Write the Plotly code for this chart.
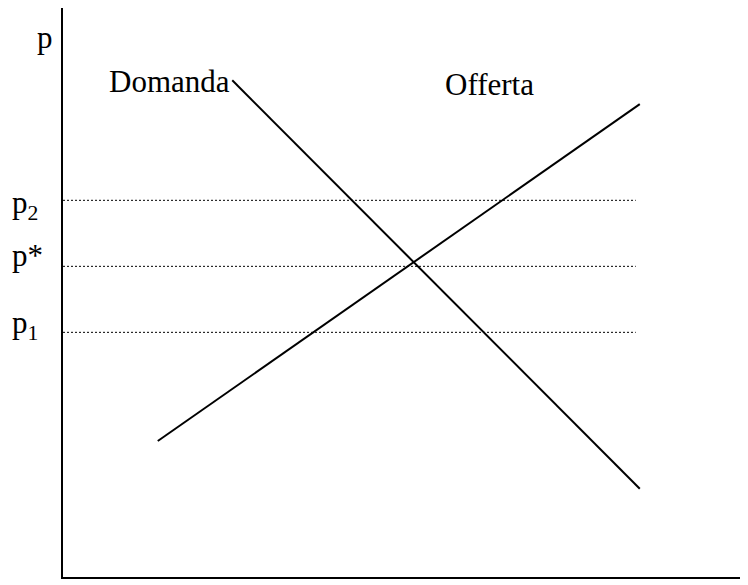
import plotly.graph_objects as go

# Data (quantity q, price p) in abstract units 0-100
demand_q = [25.0, 85.2]
demand_p = [87.3, 15.5]
supply_q = [14.0, 85.2]
supply_p = [23.9, 83.1]

price_labels = ["p<sub>2</sub>", "p*", "p<sub>1</sub>"]
price_levels = [66.2, 54.6, 43.0]
dotted_end_q = 84.6

FONT = "Liberation Serif"

fig = go.Figure()
for lvl in price_levels:
    fig.add_trace(go.Scatter(x=[0, dotted_end_q], y=[lvl, lvl], mode="lines",
                             line=dict(color="black", width=1, dash="2px,2px"),
                             hoverinfo="skip", showlegend=False))
fig.add_trace(go.Scatter(x=demand_q, y=demand_p, mode="lines",
                         line=dict(color="black", width=2), showlegend=False, name="Domanda"))
fig.add_trace(go.Scatter(x=supply_q, y=supply_p, mode="lines",
                         line=dict(color="black", width=2), showlegend=False, name="Offerta"))

ann = []
ann.append(dict(x=-0.0414, y=0.949, text="p"))
label_y = [0.6538, 0.5659, 0.4429]
for t, yy in zip(price_labels, label_y):
    ann.append(dict(x=-0.0783, y=yy, text=t))
ann.append(dict(x=0.065, y=0.870, text="Domanda"))
ann.append(dict(x=0.5613, y=0.865, text="Offerta"))
for a in ann:
    a.update(showarrow=False, xref="paper", yref="paper", xanchor="left", yanchor="middle",
             font=dict(family=FONT, size=31, color="black"))

fig.update_layout(
    width=740, height=577,
    margin=dict(l=55, r=8, t=0, b=8),
    paper_bgcolor="white", plot_bgcolor="white",
    annotations=ann,
    xaxis=dict(range=[0, 100], showgrid=False, zeroline=False, showticklabels=False,
               ticks="", showline=True, linecolor="black", linewidth=2, mirror=False),
    yaxis=dict(range=[0, 100], showgrid=False, zeroline=False, showticklabels=False,
               ticks="", showline=True, linecolor="black", linewidth=2, mirror=False),
)

fig.write_html("out.html")
